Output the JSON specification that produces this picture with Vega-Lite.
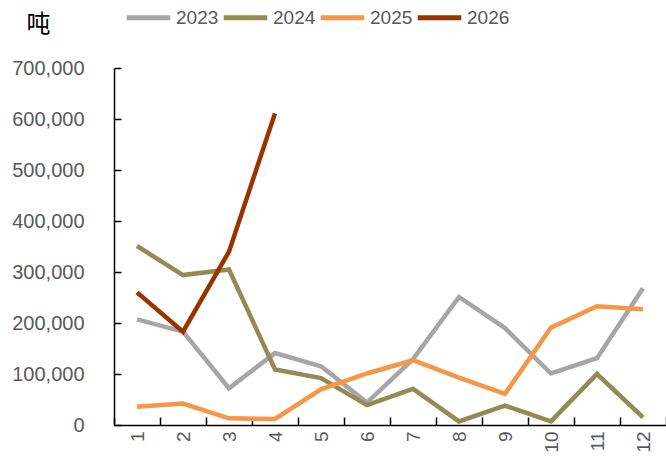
{
  "$schema": "https://vega.github.io/schema/vega-lite/v6.json",
  "width": 552,
  "height": 357,
  "autosize": {"type": "none"},
  "padding": {"left": 114, "top": 68, "right": 0, "bottom": 40},
  "background": "white",
  "data": {"values": [
    {"m": 1, "year": "2023", "v": 207000},
    {"m": 2, "year": "2023", "v": 183000},
    {"m": 3, "year": "2023", "v": 72000},
    {"m": 4, "year": "2023", "v": 141000},
    {"m": 5, "year": "2023", "v": 115000},
    {"m": 6, "year": "2023", "v": 44000},
    {"m": 7, "year": "2023", "v": 129000},
    {"m": 8, "year": "2023", "v": 251000},
    {"m": 9, "year": "2023", "v": 190000},
    {"m": 10, "year": "2023", "v": 101000},
    {"m": 11, "year": "2023", "v": 131000},
    {"m": 12, "year": "2023", "v": 268000},
    {"m": 1, "year": "2024", "v": 351000},
    {"m": 2, "year": "2024", "v": 294000},
    {"m": 3, "year": "2024", "v": 305000},
    {"m": 4, "year": "2024", "v": 109000},
    {"m": 5, "year": "2024", "v": 92000},
    {"m": 6, "year": "2024", "v": 39000},
    {"m": 7, "year": "2024", "v": 71000},
    {"m": 8, "year": "2024", "v": 7000},
    {"m": 9, "year": "2024", "v": 38000},
    {"m": 10, "year": "2024", "v": 7000},
    {"m": 11, "year": "2024", "v": 100000},
    {"m": 12, "year": "2024", "v": 15000},
    {"m": 1, "year": "2025", "v": 36000},
    {"m": 2, "year": "2025", "v": 42000},
    {"m": 3, "year": "2025", "v": 13000},
    {"m": 4, "year": "2025", "v": 12000},
    {"m": 5, "year": "2025", "v": 70000},
    {"m": 6, "year": "2025", "v": 101000},
    {"m": 7, "year": "2025", "v": 127000},
    {"m": 8, "year": "2025", "v": 93000},
    {"m": 9, "year": "2025", "v": 61000},
    {"m": 10, "year": "2025", "v": 191000},
    {"m": 11, "year": "2025", "v": 233000},
    {"m": 12, "year": "2025", "v": 227000},
    {"m": 1, "year": "2026", "v": 260000},
    {"m": 2, "year": "2026", "v": 183000},
    {"m": 3, "year": "2026", "v": 340000},
    {"m": 4, "year": "2026", "v": 611000}
  ]},
  "config": {
    "view": {"stroke": null},
    "font": "Liberation Sans"
  },
  "mark": {"type": "line", "strokeWidth": 4.5, "strokeJoin": "miter"},
  "encoding": {
    "x": {
      "field": "m",
      "type": "ordinal",
      "scale": {"type": "band", "paddingInner": 0, "paddingOuter": 0},
      "axis": {
        "title": null,
        "labelAngle": -90,
        "labelAlign": "right",
        "labelBaseline": "middle",
        "labelFontSize": 19,
        "labelColor": "#595959",
        "labelPadding": 14,
        "tickBand": "extent",
        "tickSize": -8,
        "tickColor": "#000000",
        "tickWidth": 1.5,
        "domainColor": "#000000",
        "domainWidth": 1.5
      }
    },
    "y": {
      "field": "v",
      "type": "quantitative",
      "scale": {"domain": [0, 700000], "nice": false},
      "axis": {
        "title": "吨",
        "titleAngle": 0,
        "titleX": -76,
        "titleY": -44,
        "titleAlign": "center",
        "titleBaseline": "middle",
        "titleFont": "Noto Sans CJK SC",
        "titleFontSize": 24,
        "titleFontWeight": "normal",
        "titleColor": "#000000",
        "values": [0, 100000, 200000, 300000, 400000, 500000, 600000, 700000],
        "format": ",d",
        "labelFontSize": 20,
        "labelColor": "#595959",
        "labelPadding": 37,
        "tickSize": -7,
        "tickColor": "#000000",
        "tickWidth": 1.5,
        "domainColor": "#000000",
        "domainWidth": 1.5,
        "grid": false
      }
    },
    "color": {
      "field": "year",
      "type": "nominal",
      "scale": {"domain": ["2023", "2024", "2025", "2026"], "range": ["#A6A6A6", "#948A54", "#F79646", "#993300"]},
      "legend": {
        "title": null,
        "orient": "none",
        "direction": "horizontal",
        "legendX": 10,
        "legendY": -75,
        "symbolType": "stroke",
        "symbolSize": 1900,
        "symbolStrokeWidth": 5,
        "labelFontSize": 19,
        "labelColor": "#595959",
        "labelOffset": 3,
        "columnPadding": -6
      }
    }
  }
}
